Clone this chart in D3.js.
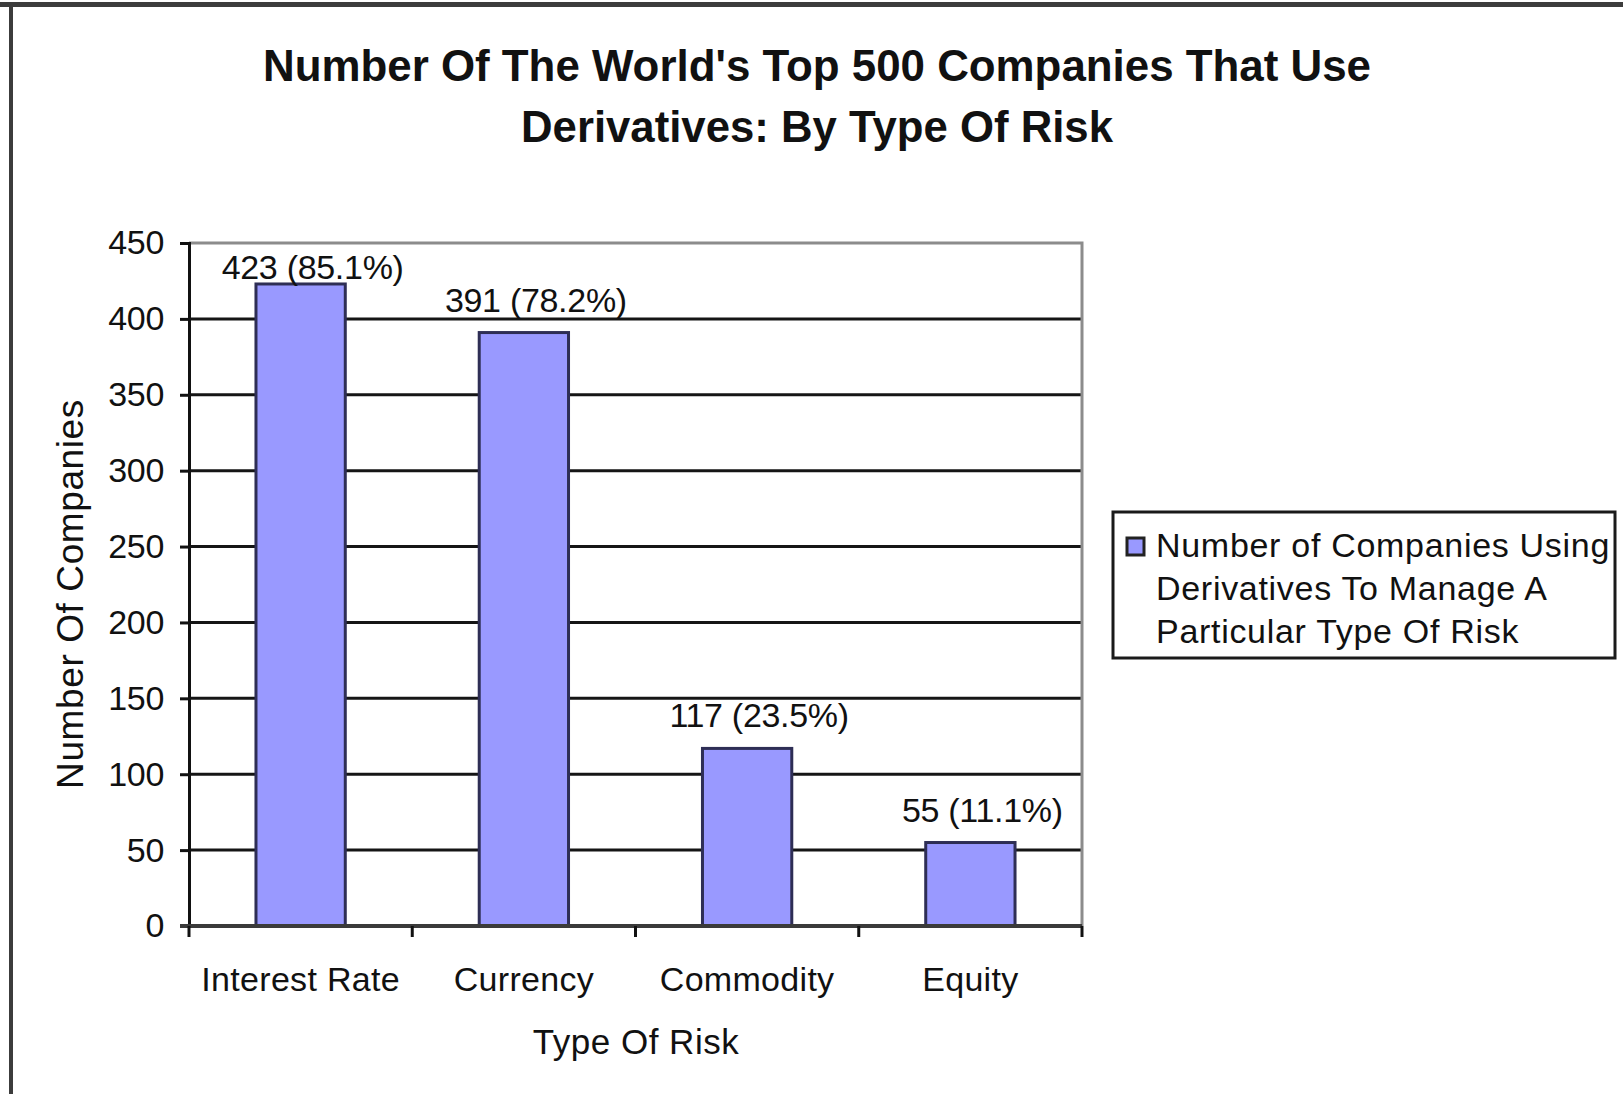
<!DOCTYPE html>
<html>
<head>
<meta charset="utf-8">
<script src="https://cdn.jsdelivr.net/npm/d3@7"></script>
<style>
  html, body { margin: 0; padding: 0; background: #fff; }
  text { font-family: "Liberation Sans", Arial, Helvetica, sans-serif; fill: #111; }
</style>
</head>
<body>
<svg id="chart" width="1623" height="1094"></svg>
<script>
// Data
const categories = ["Interest Rate", "Currency", "Commodity", "Equity"];
const companies = [423, 391, 117, 55];
const shares = ["85.1%", "78.2%", "23.5%", "11.1%"];
const yTicks = [0, 50, 100, 150, 200, 250, 300, 350, 400, 450];
const titleLines = ["Number Of The World's Top 500 Companies That Use", "Derivatives: By Type Of Risk"];
const legendLines = ["Number of Companies Using", "Derivatives To Manage A", "Particular Type Of Risk"];
const xTitle = "Type Of Risk";
const yTitle = "Number Of Companies";

const svg = d3.select("#chart");
const W = 1623, H = 1094;
const plot = { left: 189, right: 1082, top: 243, bottom: 926 };

// Outer frame (top and left edges)
svg.append("rect").attr("x", 0).attr("y", 0).attr("width", W).attr("height", H).attr("fill", "#fff");
svg.append("rect").attr("x", 0).attr("y", 2).attr("width", W).attr("height", 5).attr("fill", "#3c3c3c");
svg.append("rect").attr("x", 9).attr("y", 2).attr("width", 4).attr("height", H).attr("fill", "#3c3c3c");

// Scales
const x = d3.scaleBand().domain(categories).range([plot.left, plot.right]).paddingInner(0.6).paddingOuter(0.3);
const y = d3.scaleLinear().domain([0, 450]).range([plot.bottom, plot.top]);

// Title
svg.append("g").selectAll("text").data(titleLines).join("text")
  .attr("x", 817).attr("y", (d, i) => 81 + i * 61)
  .attr("text-anchor", "middle")
  .attr("font-size", 44).attr("font-weight", "bold")
  .attr("textLength", (d, i) => i === 0 ? 1108 : 592)
  .attr("lengthAdjust", "spacingAndGlyphs")
  .text(d => d);

// Gridlines
svg.append("g").selectAll("line").data(yTicks.filter(v => v > 0 && v < 450)).join("line")
  .attr("x1", plot.left).attr("x2", plot.right)
  .attr("y1", d => y(d)).attr("y2", d => y(d))
  .attr("stroke", "#151515").attr("stroke-width", 3);

// Plot area top and right border
svg.append("path")
  .attr("d", `M${plot.left},${y(450)}H${plot.right}V${plot.bottom}`)
  .attr("fill", "none").attr("stroke", "#8c8c8c").attr("stroke-width", 3);

// Bars
svg.append("g").selectAll("rect").data(categories).join("rect")
  .attr("x", d => x(d)).attr("width", x.bandwidth())
  .attr("y", (d, i) => y(companies[i]))
  .attr("height", (d, i) => y(0) - y(companies[i]))
  .attr("fill", "#9999ff").attr("stroke", "#2e2e55").attr("stroke-width", 3);

// Value labels (kept inside the plot area at the top)
svg.append("g").selectAll("text").data(categories).join("text")
  .attr("x", d => x(d) + x.bandwidth() / 2 + 12)
  .attr("y", (d, i) => Math.max(y(companies[i]) - 21, plot.top + 36))
  .attr("text-anchor", "middle").attr("font-size", 34)
  .attr("letter-spacing", -0.3)
  .text((d, i) => `${companies[i]} (${shares[i]})`);

// Y axis
const yAxis = svg.append("g").attr("transform", `translate(${plot.left},0)`)
  .call(d3.axisLeft(y).tickValues(yTicks).tickSize(9).tickPadding(16));
yAxis.select(".domain").attr("stroke", "#111").attr("stroke-width", 3);
yAxis.selectAll(".tick line").attr("stroke", "#111").attr("stroke-width", 3);
yAxis.selectAll(".tick text").attr("font-size", 34).attr("fill", "#111")
  .attr("font-family", "Liberation Sans, Arial, sans-serif").attr("letter-spacing", -0.3);

// X axis baseline, boundary ticks and labels
svg.append("line").attr("x1", plot.left - 9).attr("x2", plot.right)
  .attr("y1", y(0)).attr("y2", y(0)).attr("stroke", "#3a3a3a").attr("stroke-width", 4);
const bounds = categories.map(c => x(c) - x.step() * x.paddingInner() / 2).concat([plot.right]);
bounds[0] = plot.left;
svg.append("g").selectAll("line").data(bounds).join("line")
  .attr("x1", d => d).attr("x2", d => d)
  .attr("y1", y(0)).attr("y2", y(0) + 11)
  .attr("stroke", "#111").attr("stroke-width", 3);
svg.append("g").selectAll("text").data(categories).join("text")
  .attr("x", d => x(d) + x.bandwidth() / 2)
  .attr("y", 991)
  .attr("text-anchor", "middle").attr("font-size", 34)
  .attr("letter-spacing", 0.3)
  .text(d => d);

// Axis titles
svg.append("text").attr("x", 636).attr("y", 1054)
  .attr("text-anchor", "middle").attr("font-size", 35).attr("letter-spacing", 0.5).text(xTitle);
svg.append("text")
  .attr("transform", "translate(83,594) rotate(-90)")
  .attr("text-anchor", "middle").attr("font-size", 37).attr("letter-spacing", 0.6).text(yTitle);

// Legend
const lg = svg.append("g");
lg.append("rect").attr("x", 1113).attr("y", 512).attr("width", 502).attr("height", 146)
  .attr("fill", "#fff").attr("stroke", "#1a1a1a").attr("stroke-width", 3);
lg.append("rect").attr("x", 1127).attr("y", 538).attr("width", 17).attr("height", 17)
  .attr("fill", "#9999ff").attr("stroke", "#222").attr("stroke-width", 3);
lg.selectAll("text.item").data(legendLines).join("text").attr("class", "item")
  .attr("x", 1156).attr("y", (d, i) => 557 + i * 43)
  .attr("font-size", 34).attr("letter-spacing", 0.7)
  .text(d => d);
</script>
</body>
</html>
